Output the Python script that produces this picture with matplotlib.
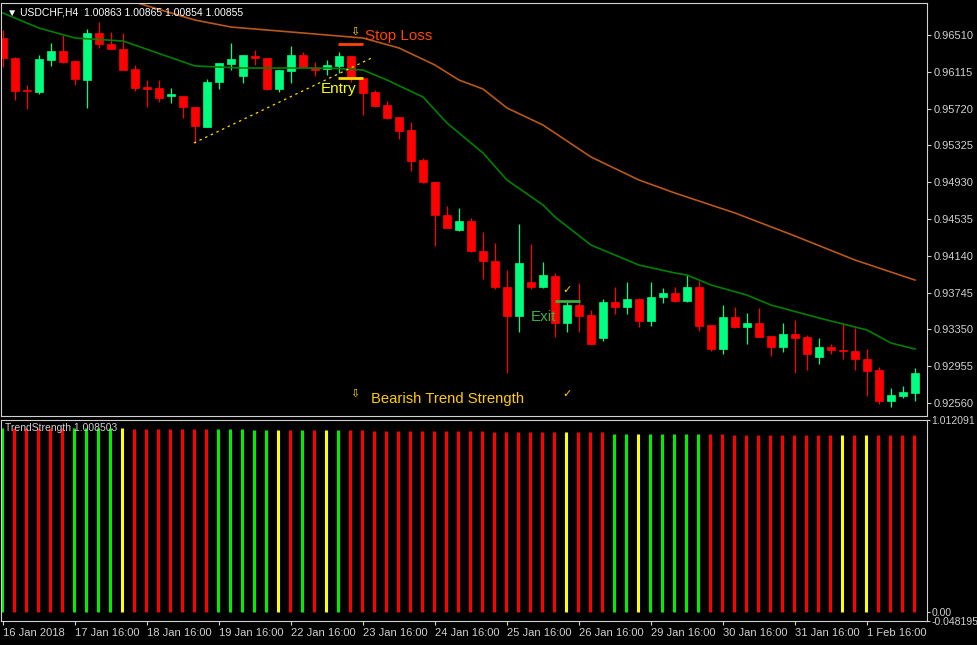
import matplotlib
matplotlib.use("Agg")
import matplotlib.pyplot as plt
import numpy as np

plt.rcParams['font.family'] = ['Liberation Sans', 'DejaVu Sans']

# USDCHF H4 candles (open, high, low, close)
opens = [0.96478, 0.96263, 0.95920, 0.95898, 0.96242, 0.96339, 0.96231, 0.96027, 0.96532, 0.96414,
         0.96360, 0.96145, 0.95952, 0.95941, 0.95856, 0.95856, 0.95737, 0.95523, 0.96006, 0.96199,
         0.96070, 0.96285, 0.96263, 0.95931, 0.96124, 0.96296, 0.96156, 0.96145, 0.96178, 0.96285,
         0.96049, 0.95898, 0.95759, 0.95630, 0.95490, 0.95168, 0.94932, 0.94578, 0.94417, 0.94514,
         0.94192, 0.94084, 0.93805, 0.93494, 0.93859, 0.93805, 0.93923, 0.93419, 0.93612, 0.93505,
         0.93258, 0.93644, 0.93591, 0.93676, 0.93440, 0.93698, 0.93741, 0.93655, 0.93805, 0.93398,
         0.93140, 0.93483, 0.93376, 0.93419, 0.93280, 0.93161, 0.93301, 0.93269, 0.93054, 0.93161,
         0.93129, 0.93118, 0.93032, 0.92914, 0.92582, 0.92635, 0.92667]
highs = [0.96564, 0.96274, 0.95974, 0.96296, 0.96424, 0.96510, 0.96240, 0.96575, 0.96650, 0.96543,
         0.96532, 0.96188, 0.96027, 0.96027, 0.95941, 0.95860, 0.95740, 0.96038, 0.96215, 0.96424,
         0.96300, 0.96349, 0.96268, 0.96140, 0.96392, 0.96328, 0.96220, 0.96242, 0.96328, 0.96290,
         0.96052, 0.95920, 0.95802, 0.95635, 0.95576, 0.95190, 0.94935, 0.94675, 0.94653, 0.94545,
         0.94396, 0.94278, 0.93988, 0.94482, 0.94268, 0.94074, 0.93955, 0.93645, 0.93848, 0.93560,
         0.93676, 0.93805, 0.93859, 0.93685, 0.93859, 0.93795, 0.93805, 0.93934, 0.93870, 0.93400,
         0.93612, 0.93591, 0.93526, 0.93580, 0.93285, 0.93419, 0.93451, 0.93290, 0.93258, 0.93194,
         0.93419, 0.93365, 0.93140, 0.92947, 0.92721, 0.92743, 0.92936]
lows = [0.96167, 0.95813, 0.95716, 0.95877, 0.96178, 0.96210, 0.95974, 0.95727, 0.96371, 0.96355,
        0.96130, 0.95909, 0.95737, 0.95791, 0.95780, 0.95619, 0.95351, 0.95520, 0.95931, 0.96135,
        0.95995, 0.96188, 0.95925, 0.95898, 0.95995, 0.96160, 0.96070, 0.96081, 0.96102, 0.96006,
        0.95652, 0.95740, 0.95609, 0.95394, 0.95050, 0.94925, 0.94245, 0.94435, 0.94405, 0.94185,
        0.93891, 0.93785, 0.92882, 0.93322, 0.93785, 0.93800, 0.93269, 0.93322, 0.93322, 0.93190,
        0.93226, 0.93516, 0.93516, 0.93376, 0.93387, 0.93634, 0.93650, 0.93650, 0.93333, 0.93118,
        0.93086, 0.93370, 0.93194, 0.93265, 0.93065, 0.93108, 0.92882, 0.92914, 0.92979, 0.93086,
        0.93032, 0.92914, 0.92635, 0.92549, 0.92517, 0.92614, 0.92582]
closes = [0.96263, 0.95909, 0.95909, 0.96253, 0.96339, 0.96220, 0.96038, 0.96532, 0.96414, 0.96360,
          0.96135, 0.95941, 0.95931, 0.95834, 0.95877, 0.95737, 0.95534, 0.96006, 0.96210, 0.96253,
          0.96296, 0.96263, 0.95931, 0.96135, 0.96296, 0.96167, 0.96135, 0.96188, 0.96285, 0.96049,
          0.95888, 0.95748, 0.95619, 0.95480, 0.95158, 0.94932, 0.94578, 0.94439, 0.94514, 0.94192,
          0.94084, 0.93805, 0.93494, 0.94063, 0.93805, 0.93934, 0.93419, 0.93612, 0.93494, 0.93194,
          0.93644, 0.93591, 0.93676, 0.93440, 0.93698, 0.93741, 0.93655, 0.93805, 0.93387, 0.93140,
          0.93483, 0.93376, 0.93419, 0.93269, 0.93161, 0.93301, 0.93258, 0.93086, 0.93161, 0.93129,
          0.93118, 0.93032, 0.92904, 0.92582, 0.92646, 0.92678, 0.92882]

# moving averages read at a few bars
ma_fast_idx = [0, 3, 6, 10, 16, 20, 27, 30, 32, 35, 37, 40, 42, 45, 46, 49, 53, 56, 57, 59, 62, 64, 68, 72, 74, 76]
ma_fast = [0.96746, 0.96585, 0.96478, 0.96446, 0.96178, 0.96156, 0.96156, 0.96135, 0.96027, 0.95845,
           0.95566, 0.95244, 0.94954, 0.94686, 0.94557, 0.94256, 0.94041, 0.93956, 0.93934, 0.93827,
           0.93719, 0.93612, 0.93473, 0.93344, 0.93204, 0.93140]
ma_slow_idx = [10, 16, 19, 25, 30, 33, 36, 38, 40, 42, 45, 49, 53, 56, 61, 66, 71, 76]
ma_slow = [0.96900, 0.96671, 0.96596, 0.96532, 0.96478, 0.96371, 0.96188, 0.96027, 0.95931, 0.95727,
           0.95544, 0.95201, 0.94954, 0.94814, 0.94600, 0.94353, 0.94095, 0.93880]

# TrendStrength histogram: colour code per bar and height
ts_colors = ("G" + "R" * 5 + "G" * 4 + "Y" + "R" * 7 + "G" * 5 + "Y" + "R" + "G" + "R" + "Y" + "G"
             + "R" * 18 + "Y" + "R" * 3 + "GG" + "Y" + "G" * 5 + "R" * 11 + "Y" + "R" + "Y" + "R" * 4)
ts_values = [0.971] * 11 + [0.965] * 10 + [0.960] * 10 + [0.955] * 10 + [0.948] * 10 + [0.940] * 10 + [0.934] * 16

price_ticks = [0.96510, 0.96115, 0.95720, 0.95325, 0.94930, 0.94535, 0.94140, 0.93745, 0.93350, 0.92955, 0.92560]
date_ticks = [0, 6, 12, 18, 24, 30, 36, 42, 48, 54, 60, 66, 72]
date_labels = ["16 Jan 2018", "17 Jan 16:00", "18 Jan 16:00", "19 Jan 16:00", "22 Jan 16:00", "23 Jan 16:00",
               "24 Jan 16:00", "25 Jan 16:00", "26 Jan 16:00", "29 Jan 16:00", "30 Jan 16:00",
               "31 Jan 16:00", "1 Feb 16:00"]

BULL = "#00FF80"
BEAR = "#FF0000"
FG = "#D0D0D0"
cmap = {"R": "#FF0000", "G": "#00EE00", "Y": "#FFFF00"}

fig = plt.figure(figsize=(9.77, 6.45), dpi=100, facecolor="black")
W, H = 977, 645
ax = fig.add_axes([1 / W, 1 - 416 / H, 926 / W, 413 / H], facecolor="black")
ax2 = fig.add_axes([1 / W, 1 - 621 / H, 926 / W, 201 / H], facecolor="black")

n = len(opens)
x = np.arange(n)
xlim = (-0.17, 77.0)

for i in x:
    o, h, l, c = opens[i], highs[i], lows[i], closes[i]
    col = BULL if c >= o else BEAR
    ax.vlines(i, l, h, color=col, lw=0.9)
    lo, hi = min(o, c), max(o, c)
    ax.bar(i, max(hi - lo, 0.00002), bottom=lo, width=0.68, color=col, edgecolor=col, lw=0.5)

ax.plot(ma_fast_idx, ma_fast, color="#008000", lw=1.2)
ax.plot(ma_slow_idx, ma_slow, color="#B8581A", lw=1.2)

# trade annotations
ax.plot([15.9, 30.7], [0.95351, 0.96263], color="#FFD700", lw=0.9, ls=(0, (2, 3)))
ax.hlines(0.96414, 27.9, 30.0, color="#FF4500", lw=2)
ax.hlines(0.96049, 27.9, 30.0, color="#FFD700", lw=2)
ax.hlines(0.93655, 46.0, 48.1, color="#3CB043", lw=2)
ax.text(29.3, 0.96545, "⇩", color="#FFD700", fontsize=8, ha="center", va="center")
ax.text(30.2, 0.96505, "Stop Loss", color="#FF4500", fontsize=11, va="center")
ax.text(26.5, 0.95930, "Entry", color="#FFFF00", fontsize=11, va="center")
ax.text(44.0, 0.93480, "Exit", color="#3CB043", fontsize=11, va="center")
ax.text(47.0, 0.93770, "✓", color="#FFD700", fontsize=8, ha="center", va="center")
ax.text(47.0, 0.92660, "✓", color="#FFD700", fontsize=8, ha="center", va="center")
ax.text(29.3, 0.92660, "⇩", color="#FFD700", fontsize=8, ha="center", va="center")
ax.text(30.7, 0.92600, "Bearish Trend Strength", color="#FFCC00", fontsize=10.7, va="center")
ax.text(0.006, 0.99, "▼ USDCHF,H4  1.00863 1.00865 1.00854 1.00855", transform=ax.transAxes,
        color="white", fontsize=7.5, va="top")

ax.set_xlim(*xlim)
ax.set_ylim(0.92421, 0.96854)
ax.yaxis.tick_right()
ax.set_yticks(price_ticks)
ax.set_yticklabels([f"{p:.5f}" for p in price_ticks])
ax.set_xticks([])

# TrendStrength panel
ax2.vlines(x - 0.07, 0, ts_values, colors=[cmap[c] for c in ts_colors], lw=2.2)
ax2.set_xlim(*xlim)
ax2.set_ylim(-0.048195, 1.012091)
ax2.yaxis.tick_right()
ax2.set_yticks([1.012091, 0.0, -0.048195])
ax2.set_yticklabels(["1.012091", "0.00", "-0.048195"])
ax2.set_xticks(date_ticks)
ax2.set_xticklabels(date_labels, ha="left")
ax2.text(0.004, 0.985, "TrendStrength 1.008503", transform=ax2.transAxes, color=FG, fontsize=7.5, va="top")

for a in (ax, ax2):
    a.tick_params(colors=FG, labelsize=8, length=3, width=0.8, pad=2)
    for s in a.spines.values():
        s.set_color(FG)
        s.set_linewidth(0.8)
ax2.tick_params(axis="y", labelsize=7.5, length=2, pad=1)

fig.savefig("out.png", dpi=100, facecolor="black")
